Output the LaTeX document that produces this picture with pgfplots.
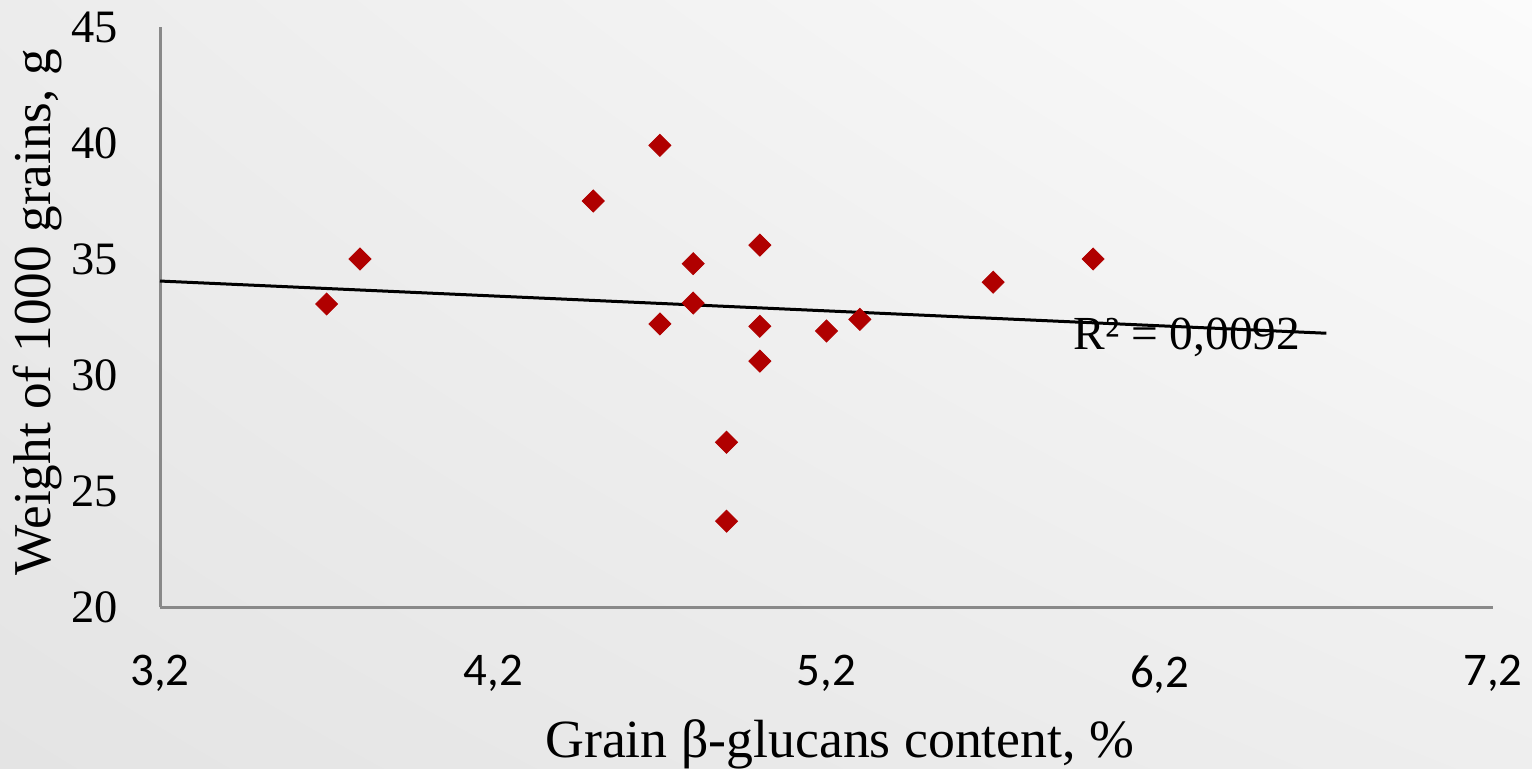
\documentclass[border=0pt]{standalone}
\usepackage{fontspec}
\setmainfont{Liberation Serif}
\newfontfamily\calibri{Carlito}
\usepackage{pgfplots}
\pgfplotsset{compat=1.18}
\usetikzlibrary{shadings}
\definecolor{markred}{RGB}{176,0,0}
\definecolor{axisgray}{RGB}{137,137,137}
\definecolor{bgUL}{RGB}{236,236,236}
\definecolor{bgUR}{RGB}{251,251,251}
\definecolor{bgLL}{RGB}{228,228,228}
\definecolor{bgLR}{RGB}{238,238,238}
\begin{document}
\begin{tikzpicture}[x=1bp,y=1bp]
\shade[upper left=bgUL, upper right=bgUR, lower left=bgLL, lower right=bgLR] (0,0) rectangle (766,384);
\useasboundingbox (0,0) rectangle (766,384);
\begin{axis}[
  at={(80bp,80.5bp)}, anchor=south west,
  scale only axis, width=666.5bp, height=290bp,
  xmin=3.2, xmax=7.2, ymin=20, ymax=45,
  axis lines*=left,
  axis line style={-, axisgray, line width=1.5bp},
  major tick length=0pt,
  xtick={3.2,4.2,5.2,6.2,7.2},
  xticklabels={{3,2},{4,2},{5,2},{6,2},{7,2}},
  ytick={20,25,30,35,40,45},
  /pgf/number format/assume math mode=true,
  xticklabel style={font=\calibri\fontsize{23.5}{23.5}\selectfont, anchor=north, inner sep=0pt, yshift=-24bp},
  yticklabel style={font=\fontsize{23.3}{23.3}\selectfont, anchor=east, inner sep=0pt, xshift=-21bp},
  xlabel={Grain β-glucans content, \%},
  ylabel={Weight of 1000 grains, g},
  xlabel style={font=\fontsize{27}{27}\selectfont, at={(axis description cs:0.51,-0.2586)}, anchor=base},
  ylabel style={font=\fontsize{26.7}{26.7}\selectfont, at={(axis description cs:-0.092,0.508)}, anchor=center},
  clip=false,
]
% thousand-grain weight against beta-glucan content
\addplot[only marks, mark=square*, mark size=3.9bp, color=markred,
  mark options={rotate=45, fill=markred, draw=markred}] coordinates {
  (3.70,33.06) (3.80,35.0) (4.50,37.5) (4.70,39.9) (4.70,32.2)
  (4.80,34.8) (4.80,33.1) (4.90,27.1) (4.90,23.7) (5.00,35.6)
  (5.00,32.1) (5.00,30.6) (5.20,31.9) (5.30,32.4) (5.70,34.0)
  (6.00,35.0)
};
% linear trend line
\addplot[black, line width=1.5bp] coordinates {(3.2,34.05) (6.7,31.8)};
\node[anchor=base west, inner sep=0pt, font=\fontsize{23.8}{23.8}\selectfont] at (axis cs:5.94,31.12) {R² = 0,0092};
\end{axis}
\end{tikzpicture}
\end{document}
